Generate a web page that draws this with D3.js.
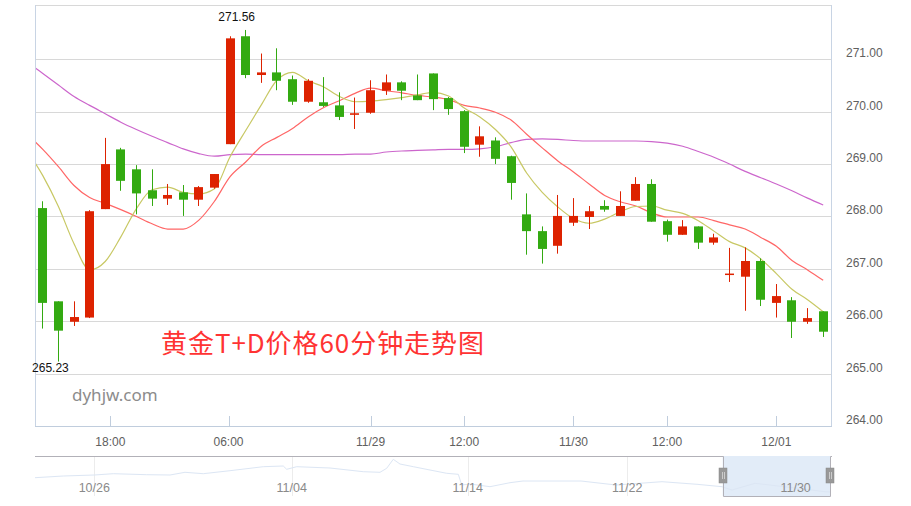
<!DOCTYPE html>
<html>
<head>
<meta charset="utf-8">
<script src="https://cdn.jsdelivr.net/npm/d3@7"></script>
<style>
  html, body { margin: 0; padding: 0; background: #fff; }
  svg { display: block; }
</style>
</head>
<body>
<svg id="chart" width="911" height="506"></svg>
<script>
// ---------- DATA ----------
const opens  = [268.16,266.38,265.99,266.07,268.14,269.28,268.90,268.50,268.34,268.46,268.32,268.55,269.38,271.44,270.70,270.75,270.62,270.19,270.18,270.12,269.94,269.98,270.40,270.56,270.31,270.73,270.26,270.01,269.37,269.45,269.15,268.04,267.72,267.44,267.88,267.99,268.20,268.01,268.30,268.62,267.91,267.65,267.81,267.50,266.89,266.85,267.15,266.35,266.40,265.99,266.19];
const highs  = [268.29,266.38,266.38,268.12,269.50,269.31,268.98,268.90,268.62,268.60,268.58,268.81,271.44,271.56,271.11,271.21,270.69,270.62,270.66,270.37,270.27,270.60,270.71,270.58,270.71,270.73,270.28,270.03,269.72,269.51,269.16,268.44,267.81,268.41,268.35,268.20,268.31,268.48,268.75,268.71,267.94,267.93,267.81,267.67,267.40,267.41,267.20,266.71,266.46,266.25,266.19];
const lows   = [265.86,265.23,265.91,266.06,268.14,268.49,268.04,268.20,268.22,268.01,268.20,268.53,269.38,270.64,270.55,270.41,270.13,270.17,270.09,269.84,269.67,269.96,270.32,270.22,270.22,270.03,269.94,269.21,269.14,269.00,268.32,267.27,267.10,267.29,267.82,267.76,268.09,268.01,268.30,267.90,267.52,267.65,267.38,267.46,266.75,266.20,266.29,266.07,265.68,265.95,265.70];
const closes = [266.35,265.82,266.08,268.10,269.00,268.68,268.44,268.34,268.41,268.32,268.56,268.81,271.40,270.70,270.75,270.59,270.19,270.59,270.11,269.90,269.97,270.41,270.56,270.40,270.22,270.24,270.05,269.33,269.53,269.10,268.64,267.72,267.38,268.01,268.01,268.10,268.13,268.20,268.62,267.90,267.65,267.81,267.50,267.60,266.91,267.15,266.41,266.48,265.99,266.06,265.80];

// moving averages: first value belongs to the candle just before the visible window
const ma5  = [269.25,268.78,268.19,267.48,266.98,267.14,267.61,268.15,268.51,268.56,268.46,268.43,268.53,269.14,269.64,270.13,270.60,270.75,270.59,270.47,270.29,270.19,270.20,270.23,270.27,270.32,270.37,270.30,270.07,269.90,269.66,269.33,268.83,268.46,268.18,267.96,267.87,267.95,268.09,268.19,268.20,268.12,268.06,267.92,267.72,267.52,267.40,267.19,266.91,266.61,266.41,266.18];
const ma10 = [269.57,269.28,268.95,268.59,268.36,268.25,268.13,268.00,267.86,267.76,267.76,267.93,268.29,268.76,269.04,269.34,269.51,269.68,269.90,270.08,270.21,270.35,270.45,270.40,270.36,270.31,270.28,270.23,270.12,270.07,269.99,269.84,269.57,269.31,269.06,268.85,268.62,268.40,268.28,268.20,268.07,267.99,267.99,267.99,267.92,267.84,267.76,267.60,267.43,267.16,266.98,266.78];
const ma20 = [270.95,270.73,270.51,270.29,270.12,269.96,269.80,269.66,269.53,269.41,269.29,269.20,269.15,269.18,269.19,269.18,269.18,269.18,269.18,269.18,269.18,269.19,269.19,269.23,269.25,269.26,269.27,269.28,269.28,269.29,269.33,269.41,269.47,269.48,269.47,269.45,269.44,269.44,269.44,269.44,269.43,269.40,269.34,269.24,269.13,269.00,268.86,268.74,268.62,268.49,268.35,268.22];

const yTicks = [264, 265, 266, 267, 268, 269, 270, 271];
const xTickPos = [4.33, 11.9, 21, 27, 34, 40, 47];
const xTickLabels = ["18:00", "06:00", "11/29", "12:00", "11/30", "12:00", "12/01"];

// navigator (overview) series: position along the full history (0-100) and level
const navPos = [0,3.56,7.45,9.84,14.03,16.96,18.84,21.14,24.50,28.68,31.19,31.62,32.88,37.06,41.24,43.34,44.18,45.01,45.85,47.53,49.62,51.72,53.18,53.61,54.65,57.16,59.67,61.31,68.59,72.99,78.77,83.17,86.31,87.56,90.45,94.10,99.25,100];
const navVal = [18.3,20,21,22.3,21.3,21,23.7,22.3,25.3,29.3,30,26.7,29.3,28,24.3,23.7,27.7,36.7,32,29.3,26,22.7,21.7,11,12,9.3,13.3,15,15,11,14.3,11.7,9.3,6,12.7,9.3,4.3,4];
const navTickPos = [7.45, 32.25, 54.36, 74.41, 95.56];
const navTickLabels = ["10/26", "11/04", "11/14", "11/22", "11/30"];
const navWindow = [86.39, 99.91];

const title = "黄金T+D价格60分钟走势图";
const watermark = "dyhjw.com";

// ---------- LAYOUT ----------
const L = 35, R = 831, T = 5, B = 426;
const NAV_T = 456, NAV_B = 496;
const UP = "#dd2200", DOWN = "#33aa11";

const svg = d3.select("#chart");
const n = closes.length;
const x = d3.scaleLinear().domain([-0.5, n - 0.5]).range([L, R]);
const y = d3.scaleLinear().domain([264, 271]).range([B, 59.3]);

// grid
svg.append("g").selectAll("line").data(yTicks.filter(v => v > 264)).join("line")
  .attr("x1", L).attr("x2", R)
  .attr("y1", d => Math.round(y(d)) + 0.5).attr("y2", d => Math.round(y(d)) + 0.5)
  .attr("stroke", "#d8d8d8").attr("stroke-width", 1);

// plot border
svg.append("line").attr("x1", L).attr("x2", R).attr("y1", T + 0.5).attr("y2", T + 0.5)
  .attr("stroke", "#d8d8d8");
svg.append("line").attr("x1", L + 0.5).attr("x2", L + 0.5).attr("y1", T).attr("y2", B)
  .attr("stroke", "#c8d4e4");
svg.append("line").attr("x1", R + 0.5).attr("x2", R + 0.5).attr("y1", T).attr("y2", B)
  .attr("stroke", "#c8d4e4");
svg.append("line").attr("x1", L).attr("x2", R + 1).attr("y1", B + 0.5).attr("y2", B + 0.5)
  .attr("stroke", "#c0cddd");

// x ticks (inside) and labels
svg.append("g").selectAll("line").data(xTickPos).join("line")
  .attr("x1", d => Math.round(x(d)) + 0.5).attr("x2", d => Math.round(x(d)) + 0.5)
  .attr("y1", B - 10).attr("y2", B)
  .attr("stroke", "#c0cddd");
svg.append("g").selectAll("text").data(xTickPos).join("text")
  .attr("x", d => x(d)).attr("y", 445.5)
  .attr("text-anchor", "middle")
  .attr("font-family", "'Liberation Sans', Arial, sans-serif").attr("font-size", 12)
  .attr("fill", "#606060")
  .text((d, i) => xTickLabels[i]);

// y labels
svg.append("g").selectAll("text").data(yTicks).join("text")
  .attr("x", 846).attr("y", d => y(d) - 2)
  .attr("font-family", "'Liberation Sans', Arial, sans-serif").attr("font-size", 12)
  .attr("fill", "#606060")
  .text(d => d.toFixed(2));

// watermark texts
svg.append("text").attr("x", 161).attr("y", 352.5)
  .attr("font-family", "'Noto Sans CJK SC', sans-serif").attr("font-size", 26)
  .attr("textLength", 323).attr("lengthAdjust", "spacing")
  .attr("fill", "#ff3333").text(title);
svg.append("text").attr("x", 72).attr("y", 401)
  .attr("font-family", "'Noto Sans', sans-serif").attr("font-size", 17)
  .attr("fill", "#8c8c8c").text(watermark);

// clip
svg.append("clipPath").attr("id", "plotclip").append("rect")
  .attr("x", L + 1).attr("y", T).attr("width", R - L - 1).attr("height", B - T);

// moving averages
const maLine = d3.line().x((d, i) => x(i - 1)).y(d => y(d)).curve(d3.curveMonotoneX);
const maG = svg.append("g").attr("clip-path", "url(#plotclip)");
[[ma20, "#cc66cc"], [ma10, "#ff6666"], [ma5, "#c8c864"]].forEach(([arr, col]) => {
  maG.append("path").attr("d", maLine(arr)).attr("fill", "none")
    .attr("stroke", col).attr("stroke-width", 1.2);
});

// candles
const idx = d3.range(n);
const cg = svg.append("g");
cg.selectAll("line").data(idx).join("line")
  .attr("x1", i => Math.floor(x(i)) + 0.5).attr("x2", i => Math.floor(x(i)) + 0.5)
  .attr("y1", i => y(highs[i])).attr("y2", i => y(lows[i]))
  .attr("stroke", i => closes[i] >= opens[i] ? UP : DOWN).attr("stroke-width", 1);
cg.selectAll("rect").data(idx).join("rect")
  .attr("x", i => Math.floor(x(i)) - 4).attr("width", 9)
  .attr("y", i => y(Math.max(opens[i], closes[i])))
  .attr("height", i => Math.max(1.5, Math.abs(y(opens[i]) - y(closes[i]))))
  .attr("fill", i => closes[i] >= opens[i] ? UP : DOWN);

// max / min labels
const iMax = d3.maxIndex(highs), iMin = d3.minIndex(lows);
svg.append("text").attr("x", x(iMax) - 9).attr("y", y(highs[iMax]) - 9)
  .attr("text-anchor", "middle")
  .attr("font-family", "'Liberation Sans', Arial, sans-serif").attr("font-size", 12)
  .attr("fill", "#111").text(highs[iMax].toFixed(2));
svg.append("text").attr("x", x(iMin) - 8).attr("y", y(lows[iMin]) + 10)
  .attr("text-anchor", "middle")
  .attr("font-family", "'Liberation Sans', Arial, sans-serif").attr("font-size", 12)
  .attr("fill", "#111").text(lows[iMin].toFixed(2));

// ---------- NAVIGATOR ----------
const nx = d3.scaleLinear().domain([0, 100]).range([L, R]);
const ny = d3.scaleLinear().domain([0, 40]).range([NAV_B, NAV_T]);

svg.append("g").selectAll("line").data(navTickPos).join("line")
  .attr("x1", d => Math.round(nx(d)) + 0.5).attr("x2", d => Math.round(nx(d)) + 0.5)
  .attr("y1", NAV_T).attr("y2", NAV_B)
  .attr("stroke", "#ececec");

const wx0 = nx(navWindow[0]), wx1 = nx(navWindow[1]);
svg.append("rect").attr("x", wx0).attr("y", NAV_T).attr("width", wx1 - wx0).attr("height", NAV_B - NAV_T)
  .attr("fill", "#e2ecf8");

svg.append("path")
  .attr("d", d3.line().x((d, i) => nx(navPos[i])).y(d => ny(d))(navVal))
  .attr("fill", "none").attr("stroke", "#dce6f4").attr("stroke-width", 1);

svg.append("g").selectAll("text").data(navTickPos).join("text")
  .attr("x", d => nx(d)).attr("y", 492)
  .attr("text-anchor", "middle")
  .attr("font-family", "'Liberation Sans', Arial, sans-serif").attr("font-size", 12.5)
  .attr("fill", "#8a8a8a")
  .text((d, i) => navTickLabels[i]);

svg.append("path")
  .attr("d", `M${L},${NAV_T + 0.5}H${Math.round(wx0) + 0.5}V${NAV_B + 0.5}H${Math.round(wx1) + 0.5}V${NAV_T + 0.5}H${R + 1}`)
  .attr("fill", "none").attr("stroke", "#b2b1b8").attr("stroke-width", 1);

// handles
[wx0, wx1].forEach(hx => {
  const g = svg.append("g").attr("transform", `translate(${Math.round(hx) - 4},468)`);
  g.append("rect").attr("width", 8).attr("height", 15).attr("fill", "#999").attr("stroke", "#888").attr("stroke-width", 0.5);
  g.append("line").attr("x1", 3.5).attr("x2", 3.5).attr("y1", 4).attr("y2", 11).attr("stroke", "#ccc");
  g.append("line").attr("x1", 5.5).attr("x2", 5.5).attr("y1", 4).attr("y2", 11).attr("stroke", "#ccc");
});
</script>
</body>
</html>
